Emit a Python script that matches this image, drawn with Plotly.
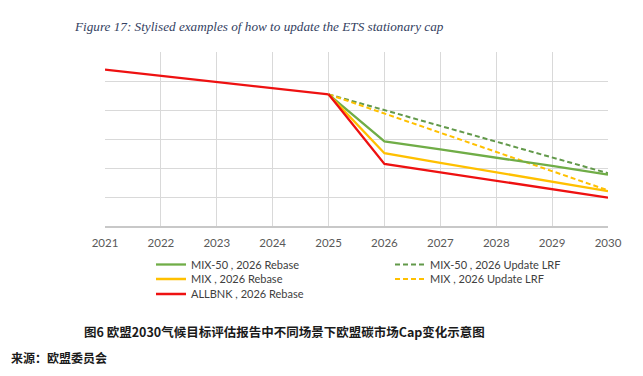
import plotly.graph_objects as go

years = [2021, 2022, 2023, 2024, 2025, 2026, 2027, 2028, 2029, 2030]
base_years = [2021, 2022, 2023, 2024, 2025]
base_vals = [5.39, 5.18, 4.97, 4.75, 4.54]
scen_years = [2025, 2026, 2027, 2028, 2029, 2030]
mix50_rebase = [4.54, 2.92, 2.64, 2.36, 2.07, 1.77]
mix_rebase = [4.54, 2.51, 2.18, 1.85, 1.53, 1.20]
allbnk_rebase = [4.54, 2.14, 1.85, 1.56, 1.27, 0.98]
mix50_lrf = [4.54, 4.00, 3.45, 2.91, 2.36, 1.82]
mix_lrf = [4.54, 3.88, 3.22, 2.55, 1.89, 1.23]

GREEN = "#70ad47"
GREEN_D = "#62994a"
GOLD = "#ffc000"
RED = "#ee1111"

L, R, T, B = 105, 35, 52, 150
W, H = 643, 376
pw, ph = W - L - R, H - T - B

def px_x(px):
    return (px - L) / pw

def px_y(py):
    return (H - B - py) / ph

fig = go.Figure()
fig.add_trace(go.Scatter(x=scen_years, y=mix50_lrf, mode="lines", name="MIX-50 , 2026 Update LRF",
                         line=dict(color=GREEN_D, width=2, dash="5px,3px"), legend="legend4"))
fig.add_trace(go.Scatter(x=scen_years, y=mix_lrf, mode="lines", name="MIX , 2026 Update LRF",
                         line=dict(color=GOLD, width=2, dash="5px,3px"), legend="legend5"))
fig.add_trace(go.Scatter(x=scen_years, y=mix50_rebase, mode="lines", name="MIX-50 , 2026 Rebase",
                         line=dict(color=GREEN, width=2.3), legend="legend"))
fig.add_trace(go.Scatter(x=scen_years, y=mix_rebase, mode="lines", name="MIX , 2026 Rebase",
                         line=dict(color=GOLD, width=2.3), legend="legend2"))
fig.add_trace(go.Scatter(x=scen_years, y=allbnk_rebase, mode="lines", name="ALLBNK , 2026 Rebase",
                         line=dict(color=RED, width=2.3), legend="legend3"))
fig.add_trace(go.Scatter(x=base_years, y=base_vals, mode="lines", showlegend=False,
                         line=dict(color=RED, width=2.3)))

legend_font = dict(family="Lato, Liberation Sans, sans-serif", size=11, color="#404040")

def leg(xp, yp):
    return dict(x=px_x(xp), y=px_y(yp), xanchor="left", yanchor="middle",
                font=legend_font, bgcolor="rgba(0,0,0,0)", itemwidth=30, borderwidth=0)

fig.update_layout(
    width=W, height=H,
    margin=dict(l=L, r=R, t=T, b=B),
    paper_bgcolor="white", plot_bgcolor="white",
    xaxis=dict(range=[2021, 2030], tickvals=years, ticktext=[str(y) for y in years],
               showgrid=True, gridcolor="#d9d9d9", gridwidth=1,
               showline=True, linecolor="#c8c8c8", linewidth=1.5, mirror=False,
               zeroline=False, ticks="", ticklabelstandoff=5,
               tickfont=dict(family="Lato, Liberation Sans, sans-serif", size=11.5, color="#595959")),
    yaxis=dict(range=[0, 6], dtick=1, showgrid=True, gridcolor="#d9d9d9", gridwidth=1,
               showticklabels=False, zeroline=False, showline=False, ticks=""),
    legend=leg(151, 264.5),
    legend2=leg(151, 279),
    legend3=leg(151, 294),
    legend4=leg(390, 264.5),
    legend5=leg(390, 279),
    annotations=[
        dict(text="<i>Figure 17: Stylised examples of how to update the ETS stationary cap</i>",
             xref="paper", yref="paper", x=px_x(72), y=px_y(27), xanchor="left", yanchor="middle",
             showarrow=False,
             font=dict(family="Liberation Serif, DejaVu Serif, serif", size=13.2, color="#33415f")),
        dict(text="<b>图6 欧盟2030气候目标评估报告中不同场景下欧盟碳市场Cap变化示意图</b>",
             xref="paper", yref="paper", x=px_x(284), y=px_y(331), xanchor="center", yanchor="middle",
             showarrow=False,
             font=dict(family="Noto Sans CJK SC, sans-serif", size=12.5, color="#1a1a1a")),
        dict(text="<b>来源：欧盟委员会</b>",
             xref="paper", yref="paper", x=px_x(9), y=px_y(357), xanchor="left", yanchor="middle",
             showarrow=False,
             font=dict(family="Noto Sans CJK SC, sans-serif", size=12, color="#1a1a1a")),
    ],
)

fig.write_html("out.html", config={"displayModeBar": False},
               post_script="document.body.style.margin='0px';")
